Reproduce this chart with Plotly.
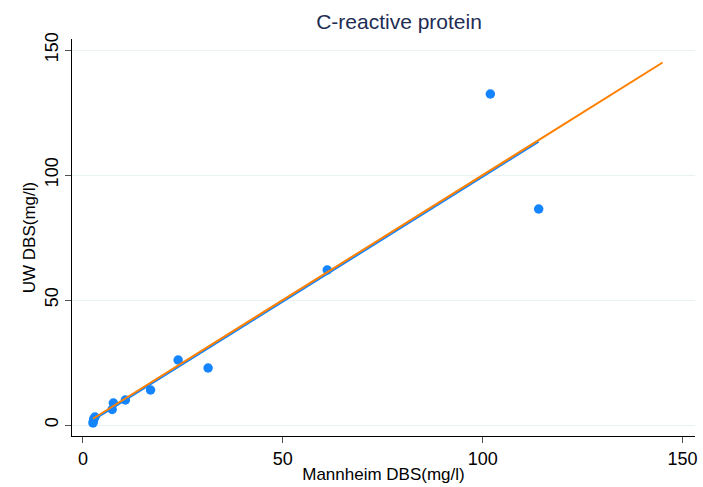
import plotly.graph_objects as go

# Data
mannheim = [2.5, 2.6, 2.7, 3.0, 7.3, 7.6, 10.6, 16.9, 23.8, 31.3, 61.1, 101.9, 114.0]
uw = [0.8, 1.6, 2.5, 3.2, 6.2, 8.8, 10.0, 14.0, 26.0, 22.8, 62.0, 132.4, 86.4]

fit_x = [2.5, 114.0]
fit_y = [1.9, 113.3]

ident_x = [2.5, 145.0]
ident_y = [2.5, 145.0]

x_ticks = [0, 50, 100, 150]
y_ticks = [0, 50, 100, 150]

BLUE = "rgb(20,132,255)"
ORANGE = "rgb(255,128,0)"
FONT = "Arial, Liberation Sans, sans-serif"

fig = go.Figure()
fig.add_trace(go.Scatter(x=mannheim, y=uw, mode="markers",
                         marker=dict(color=BLUE, size=9.5, line=dict(width=0)),
                         showlegend=False))
fig.add_trace(go.Scatter(x=fit_x, y=fit_y, mode="lines",
                         line=dict(color=BLUE, width=2), showlegend=False))
fig.add_trace(go.Scatter(x=ident_x, y=ident_y, mode="lines",
                         line=dict(color=ORANGE, width=2), showlegend=False))

fig.update_layout(
    width=703, height=487,
    margin=dict(l=72, r=8, t=39, b=51),
    paper_bgcolor="white", plot_bgcolor="white",
    font=dict(family=FONT, size=18, color="black"),
    title=dict(text="C-reactive protein", x=399/703, xanchor="center",
               y=1 - 22/487, yanchor="middle",
               font=dict(family=FONT, size=21, color="rgb(30,45,83)")),
    xaxis=dict(range=[-2.75, 153.1], tickvals=x_ticks, ticktext=[str(v) for v in x_ticks],
               automargin=False,
               showgrid=False, zeroline=False, showline=True, linecolor="black", linewidth=1,
               ticks="outside", ticklen=6, tickcolor="rgb(80,80,80)",
               tickfont=dict(size=18),
               title=dict(text="Mannheim DBS(mg/l)", standoff=0, font=dict(size=17))),
    yaxis=dict(range=[-4.4, 154.4], tickvals=y_ticks, ticktext=[str(v) for v in y_ticks],
               tickangle=-90, automargin=False,
               showgrid=True, gridcolor="rgb(234,242,243)", gridwidth=1,
               zeroline=False, showline=True, linecolor="black", linewidth=1,
               ticks="outside", ticklen=6, tickcolor="rgb(80,80,80)",
               tickfont=dict(size=18),
               title=dict(text="UW DBS(mg/l)", standoff=1, font=dict(size=17))),
)

fig.write_html("out.html", config={"displayModeBar": False})

# remove the default page margin so the figure sits at the window's corner
with open("out.html", "r", encoding="utf-8") as f:
    html = f.read()
html = html.replace("<body>", '<body style="margin:0;padding:0;overflow:hidden">', 1)
with open("out.html", "w", encoding="utf-8") as f:
    f.write(html)
